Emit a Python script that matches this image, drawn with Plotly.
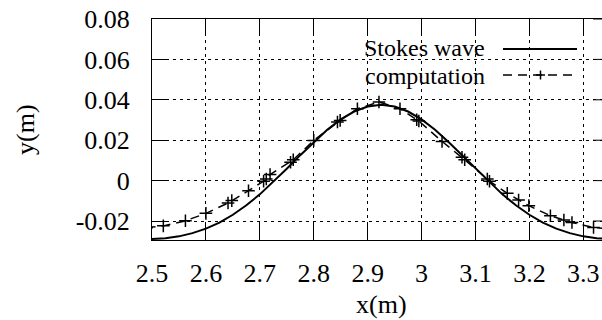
import plotly.graph_objects as go

# ---- data ----
stokes_x = [2.500, 2.525, 2.550, 2.575, 2.600, 2.625, 2.650, 2.675, 2.700, 2.725,
            2.750, 2.775, 2.800, 2.825, 2.850, 2.875, 2.900, 2.925, 2.950, 2.975,
            3.000, 3.025, 3.050, 3.075, 3.100, 3.125, 3.150, 3.175, 3.200, 3.225,
            3.250, 3.275, 3.300, 3.325, 3.350]
stokes_y = [-0.0289, -0.0285, -0.0276, -0.0260, -0.0238, -0.0208, -0.0169, -0.0122, -0.0068, -0.0007,
            0.0059, 0.0126, 0.0191, 0.0252, 0.0303, 0.0342, 0.0367, 0.0375, 0.0367, 0.0342,
            0.0303, 0.0252, 0.0191, 0.0126, 0.0059, -0.0007, -0.0068, -0.0122, -0.0169, -0.0208,
            -0.0238, -0.0260, -0.0276, -0.0285, -0.0289]

comp_x = [2.490, 2.521, 2.562, 2.600, 2.641, 2.648, 2.679, 2.707, 2.712, 2.719,
          2.757, 2.762, 2.800, 2.844, 2.849, 2.881, 2.921, 2.960, 2.991, 2.995,
          3.038, 3.075, 3.080, 3.122, 3.126, 3.159, 3.180, 3.199, 3.239, 3.264,
          3.279, 3.319, 3.350]
comp_y = [-0.0233, -0.0224, -0.0199, -0.0162, -0.0111, -0.0099, -0.0050, -0.0003, 0.0008, 0.0030,
          0.0091, 0.0103, 0.0199, 0.0290, 0.0298, 0.0356, 0.0389, 0.0356, 0.0301, 0.0295,
          0.0194, 0.0116, 0.0103, 0.0008, -0.0003, -0.0063, -0.0096, -0.0124, -0.0174, -0.0195,
          -0.0207, -0.0232, -0.0240]

x_ticks = [2.5, 2.6, 2.7, 2.8, 2.9, 3.0, 3.1, 3.2, 3.3]
x_labels = ["2.5", "2.6", "2.7", "2.8", "2.9", "3", "3.1", "3.2", "3.3"]
y_ticks = [-0.02, 0.0, 0.02, 0.04, 0.06, 0.08]
y_labels = ["-0.02", "0", "0.02", "0.04", "0.06", "0.08"]

series_names = ["Stokes wave", "computation"]

FONT = "Liberation Serif, Times New Roman, Times, DejaVu Serif, serif"
FS = 26
FS_KEY = 24
W, H = 602, 320
L, R, T, B = 152, 0, 19, 80
PW, PH = W - L - R, H - T - B

def px(xp):
    return (xp - L) / PW

def py(yp):
    return (H - B - yp) / PH

fig = go.Figure()
fig.add_trace(go.Scatter(x=stokes_x, y=stokes_y, mode="lines",
                         line=dict(color="black", width=2), name=series_names[0],
                         showlegend=False))
fig.add_trace(go.Scatter(x=comp_x, y=comp_y, mode="lines+markers",
                         line=dict(color="black", width=1.5, dash="9px,6px"),
                         marker=dict(symbol="cross-thin", size=9,
                                     line=dict(color="black", width=1.5)),
                         name=series_names[1], showlegend=False))

axis_common = dict(
    ticks="inside", ticklen=17, tickwidth=1, tickcolor="black",
    showline=True, linecolor="black", linewidth=1,
    showgrid=True, gridcolor="black", gridwidth=1, griddash="3px,4px",
    zeroline=False,
    tickfont=dict(family=FONT, size=FS, color="black"),
)
fig.update_xaxes(range=[2.5, 3.3347], tickvals=x_ticks, ticktext=x_labels,
                 mirror="ticks", ticklabelstandoff=10, **axis_common)
fig.update_yaxes(range=[-0.0294, 0.08], tickvals=y_ticks, ticktext=y_labels,
                 mirror=False, ticklabelstandoff=16, **axis_common)

shapes = []
# key box covering grid
shapes.append(dict(type="rect", xref="paper", yref="paper",
                   x0=px(219), x1=1.0, y0=py(88), y1=1.0,
                   fillcolor="white", line=dict(width=0), layer="between"))
# right-side tick stubs
for yt in y_ticks:
    shapes.append(dict(type="line", xref="paper", yref="y", x0=px(593), x1=1.0,
                       y0=yt, y1=yt, line=dict(color="black", width=1)))
# key samples
shapes.append(dict(type="line", xref="paper", yref="paper", x0=px(503), x1=px(577),
                   y0=py(49), y1=py(49), line=dict(color="black", width=2)))
shapes.append(dict(type="line", xref="paper", yref="paper", x0=px(503), x1=px(577),
                   y0=py(75), y1=py(75), line=dict(color="black", width=1.5, dash="9px,6px")))
shapes.append(dict(type="line", xref="paper", yref="paper", x0=px(536), x1=px(545),
                   y0=py(75), y1=py(75), line=dict(color="black", width=1.5)))
shapes.append(dict(type="line", xref="paper", yref="paper", x0=px(540.5), x1=px(540.5),
                   y0=py(70.5), y1=py(79.5), line=dict(color="black", width=1.5)))

annotations = [
    dict(text=series_names[0], xref="paper", yref="paper", x=px(486), y=py(48.5),
         xanchor="right", yanchor="middle", showarrow=False, borderpad=0,
         font=dict(family=FONT, size=FS_KEY, color="black")),
    dict(text=series_names[1], xref="paper", yref="paper", x=px(486), y=py(75.5),
         xanchor="right", yanchor="middle", showarrow=False, borderpad=0,
         font=dict(family=FONT, size=FS_KEY, color="black")),
    dict(text="x(m)", xref="paper", yref="paper", x=px(381), y=py(304),
         xanchor="center", yanchor="middle", showarrow=False, borderpad=0,
         font=dict(family=FONT, size=FS, color="black")),
    dict(text="y(m)", xref="paper", yref="paper", x=px(25), y=py(130),
         xanchor="center", yanchor="middle", showarrow=False, textangle=-90, borderpad=0,
         font=dict(family=FONT, size=FS, color="black")),
]

fig.update_layout(width=W, height=H, margin=dict(l=L, r=R, t=T, b=B, pad=0),
                  paper_bgcolor="white", plot_bgcolor="white",
                  font=dict(family=FONT, size=FS, color="black"),
                  shapes=shapes, annotations=annotations, showlegend=False)

fig.write_html("out.html")
